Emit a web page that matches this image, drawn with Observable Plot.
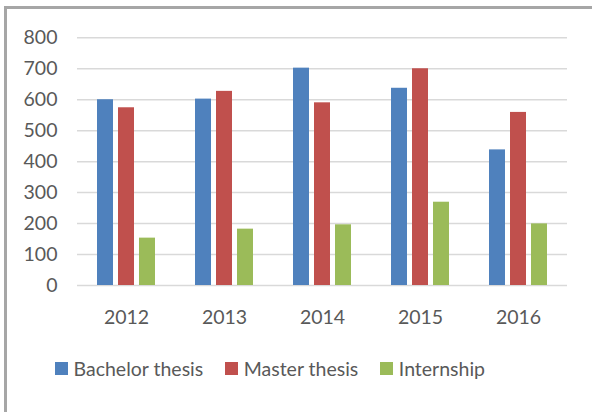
<!DOCTYPE html>
<html>
<head>
<meta charset="utf-8">
<script src="https://cdn.jsdelivr.net/npm/d3@7"></script>
<script src="https://cdn.jsdelivr.net/npm/@observablehq/plot@0.6"></script>
<style>
  html, body { margin: 0; padding: 0; background: #fff; width: 592px; height: 412px; overflow: hidden; }
  #frame { position: absolute; left: 4px; top: 6px; width: 700px; height: 500px;
           border-left: 3px solid #a6a6a6; border-top: 3px solid #a6a6a6; box-sizing: border-box; }
  #chart { position: absolute; left: 0; top: 0; }
  #legend { position: absolute; left: 55px; top: 357px; display: flex; align-items: center;
            font-family: Lato, sans-serif; font-size: 19.5px; color: #595959; }
  .item { display: flex; align-items: center; margin-right: 22px; }
  .sw { width: 12.5px; height: 12.5px; margin-right: 6px; }
</style>
</head>
<body>
<div id="frame"></div>
<div id="chart"></div>
<div id="legend"></div>
<script>
const years = ["2012", "2013", "2014", "2015", "2016"];
const series = ["Bachelor thesis", "Master thesis", "Internship"];
const bachelor = [600, 602, 702, 637, 438];
const master = [574, 627, 590, 700, 559];
const internship = [153, 182, 196, 269, 199];
const colors = ["#4f81bd", "#c0504d", "#9bbb59"];
const yTicks = [0, 100, 200, 300, 400, 500, 600, 700, 800];

const valuesBySeries = [bachelor, master, internship];
const data = [];
years.forEach((yr, i) => {
  series.forEach((s, j) => data.push({year: yr, series: s, value: valuesBySeries[j][i]}));
});

const plot = Plot.plot({
  width: 592,
  height: 340,
  marginLeft: 76,
  marginRight: 25,
  marginTop: 37.3,
  marginBottom: 55,
  style: {fontFamily: "Lato, sans-serif", fontSize: "19.5px", color: "#595959", background: "transparent"},
  fx: {domain: years, padding: 0, label: null, tickSize: 0, tickPadding: 25},
  x: {domain: series, paddingInner: 0.227, paddingOuter: 0.845, axis: null},
  y: {domain: [0, 800], ticks: yTicks, tickSize: 0, tickPadding: 20, label: null},
  color: {domain: series, range: colors},
  marks: [
    Plot.ruleY(yTicks, {stroke: "#d9d9d9", strokeWidth: 1.5}),
    Plot.barY(data, {fx: "year", x: "series", y: "value", fill: "series"})
  ]
});
document.getElementById("chart").appendChild(plot);

const legend = document.getElementById("legend");
series.forEach((s, j) => {
  const item = document.createElement("div");
  item.className = "item";
  const sw = document.createElement("div");
  sw.className = "sw";
  sw.style.background = colors[j];
  const t = document.createElement("span");
  t.textContent = s;
  item.appendChild(sw);
  item.appendChild(t);
  legend.appendChild(item);
});
</script>
</body>
</html>
